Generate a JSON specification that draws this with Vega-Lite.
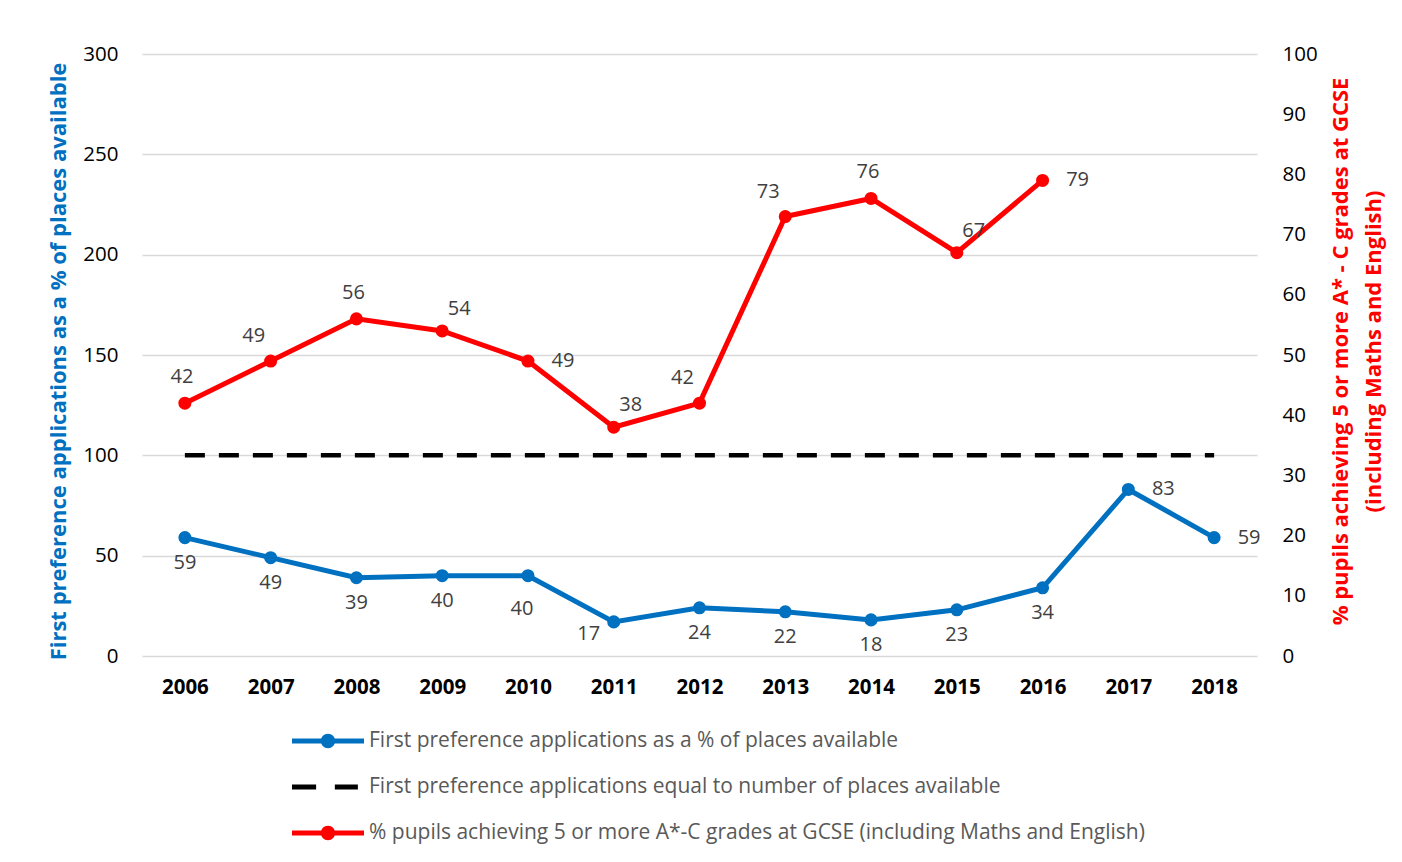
{
  "$schema": "https://vega.github.io/schema/vega-lite/v6.json",
  "width": 1115,
  "height": 602,
  "autosize": "none",
  "padding": {"left": 142, "top": 54, "right": 145, "bottom": 206},
  "background": "white",
  "config": {
    "font": "Open Sans",
    "view": {"stroke": null},
    "axis": {"labelFont": "Open Sans", "titleFont": "Open Sans", "domain": false, "ticks": false, "labelFontSize": 20.5, "labelColor": "#000000"},
    "legend": {"labelFont": "Open Sans"},
    "text": {"font": "Open Sans"}
  },
  "data": {
    "values": [
      {"year": "2006", "series": "First preference applications as a % of places available", "value": 59},
      {"year": "2007", "series": "First preference applications as a % of places available", "value": 49},
      {"year": "2008", "series": "First preference applications as a % of places available", "value": 39},
      {"year": "2009", "series": "First preference applications as a % of places available", "value": 40},
      {"year": "2010", "series": "First preference applications as a % of places available", "value": 40},
      {"year": "2011", "series": "First preference applications as a % of places available", "value": 17},
      {"year": "2012", "series": "First preference applications as a % of places available", "value": 24},
      {"year": "2013", "series": "First preference applications as a % of places available", "value": 22},
      {"year": "2014", "series": "First preference applications as a % of places available", "value": 18},
      {"year": "2015", "series": "First preference applications as a % of places available", "value": 23},
      {"year": "2016", "series": "First preference applications as a % of places available", "value": 34},
      {"year": "2017", "series": "First preference applications as a % of places available", "value": 83},
      {"year": "2018", "series": "First preference applications as a % of places available", "value": 59},
      {"year": "2006", "series": "First preference applications equal to number of places available", "value": 100},
      {"year": "2007", "series": "First preference applications equal to number of places available", "value": 100},
      {"year": "2008", "series": "First preference applications equal to number of places available", "value": 100},
      {"year": "2009", "series": "First preference applications equal to number of places available", "value": 100},
      {"year": "2010", "series": "First preference applications equal to number of places available", "value": 100},
      {"year": "2011", "series": "First preference applications equal to number of places available", "value": 100},
      {"year": "2012", "series": "First preference applications equal to number of places available", "value": 100},
      {"year": "2013", "series": "First preference applications equal to number of places available", "value": 100},
      {"year": "2014", "series": "First preference applications equal to number of places available", "value": 100},
      {"year": "2015", "series": "First preference applications equal to number of places available", "value": 100},
      {"year": "2016", "series": "First preference applications equal to number of places available", "value": 100},
      {"year": "2017", "series": "First preference applications equal to number of places available", "value": 100},
      {"year": "2018", "series": "First preference applications equal to number of places available", "value": 100},
      {"year": "2006", "series": "% pupils achieving 5 or more A*-C grades at GCSE (including Maths and English)", "value": 42},
      {"year": "2007", "series": "% pupils achieving 5 or more A*-C grades at GCSE (including Maths and English)", "value": 49},
      {"year": "2008", "series": "% pupils achieving 5 or more A*-C grades at GCSE (including Maths and English)", "value": 56},
      {"year": "2009", "series": "% pupils achieving 5 or more A*-C grades at GCSE (including Maths and English)", "value": 54},
      {"year": "2010", "series": "% pupils achieving 5 or more A*-C grades at GCSE (including Maths and English)", "value": 49},
      {"year": "2011", "series": "% pupils achieving 5 or more A*-C grades at GCSE (including Maths and English)", "value": 38},
      {"year": "2012", "series": "% pupils achieving 5 or more A*-C grades at GCSE (including Maths and English)", "value": 42},
      {"year": "2013", "series": "% pupils achieving 5 or more A*-C grades at GCSE (including Maths and English)", "value": 73},
      {"year": "2014", "series": "% pupils achieving 5 or more A*-C grades at GCSE (including Maths and English)", "value": 76},
      {"year": "2015", "series": "% pupils achieving 5 or more A*-C grades at GCSE (including Maths and English)", "value": 67},
      {"year": "2016", "series": "% pupils achieving 5 or more A*-C grades at GCSE (including Maths and English)", "value": 79}
    ]
  },
  "encoding": {
    "x": {
      "field": "year", "type": "ordinal",
      "scale": {"type": "point", "padding": 0.5},
      "axis": {"title": null, "labelAngle": 0, "labelFontWeight": "bold", "labelFontSize": 20.5, "labelPadding": 21, "grid": false}
    }
  },
  "layer": [
    {
      "encoding": {
        "y": {
          "field": "value", "type": "quantitative",
          "scale": {"domain": [0, 300]},
          "axis": {
            "values": [0, 50, 100, 150, 200, 250, 300],
            "grid": true, "gridColor": "#d9d9d9", "gridWidth": 1.5,
            "labelPadding": 24,
            "title": "First preference applications as a % of places available",
            "titleColor": "#0070C0", "titleFontWeight": "bold", "titleFontSize": 22, "titlePadding": 12,
            "titleY": 307
          }
        }
      },
      "layer": [
        {
          "transform": [{"filter": "datum.series == 'First preference applications equal to number of places available'"}],
          "mark": {"type": "line", "color": "#000000", "strokeWidth": 4.5, "strokeDash": [20, 14]}
        },
        {
          "transform": [{"filter": "datum.series == 'First preference applications as a % of places available'"}],
          "mark": {"type": "line", "color": "#0070C0", "strokeWidth": 5}
        },
        {
          "transform": [{"filter": "datum.series == 'First preference applications as a % of places available'"}],
          "mark": {"type": "point", "filled": true, "opacity": 1, "color": "#0070C0", "size": 170, "shape": "circle"}
        },
        {
          "transform": [{"filter": "datum.value < 0"}],
          "mark": {"type": "point", "filled": true, "opacity": 1},
          "encoding": {
            "color": {
              "field": "series", "type": "nominal",
              "scale": {
                "domain": ["First preference applications as a % of places available", "First preference applications equal to number of places available", "% pupils achieving 5 or more A*-C grades at GCSE (including Maths and English)"],
                "range": ["#0070C0", "#000000", "#FF0000"]
              },
              "legend": {
                "title": null, "orient": "none", "legendX": 150, "legendY": 651, "direction": "vertical",
                "symbolSize": 5184, "labelFontSize": 21, "labelColor": "#595959", "labelLimit": 1000, "labelOffset": 5, "rowPadding": 0, "symbolStrokeWidth": 0
              }
            },
            "shape": {
              "field": "series", "type": "nominal",
              "scale": {
                "domain": ["First preference applications as a % of places available", "First preference applications equal to number of places available", "% pupils achieving 5 or more A*-C grades at GCSE (including Maths and English)"],
                "range": [
                  "M-1,-0.07H1V0.07H-1Z M-0.2,0A0.2,0.2 0 1 1 0.2,0A0.2,0.2 0 1 1 -0.2,0Z",
                  "M-1,-0.07H-0.33V0.07H-1Z M0.19,-0.07H0.83V0.07H0.19Z",
                  "M-1,-0.07H1V0.07H-1Z M-0.2,0A0.2,0.2 0 1 1 0.2,0A0.2,0.2 0 1 1 -0.2,0Z"
                ]
              },
              "legend": {
                "title": null, "orient": "none", "legendX": 150, "legendY": 651, "direction": "vertical",
                "symbolSize": 5184, "labelFontSize": 21, "labelColor": "#595959", "labelLimit": 1000, "labelOffset": 5, "rowPadding": 0, "symbolStrokeWidth": 0
              }
            }
          }
        },
        {
          "transform": [{"filter": "datum.series == 'First preference applications as a % of places available' && indexof(['2010','2011','2017','2018'], datum.year) < 0"}],
          "mark": {"type": "text", "fontSize": 20, "color": "#404040", "dy": 25, "baseline": "middle"},
          "encoding": {"text": {"field": "value", "type": "quantitative"}}
        },
        {
          "transform": [{"filter": "datum.series == 'First preference applications as a % of places available' && datum.year == '2010'"}],
          "mark": {"type": "text", "fontSize": 20, "color": "#404040", "dy": 33, "dx": -6, "baseline": "middle"},
          "encoding": {"text": {"field": "value", "type": "quantitative"}}
        },
        {
          "transform": [{"filter": "datum.series == 'First preference applications as a % of places available' && datum.year == '2011'"}],
          "mark": {"type": "text", "fontSize": 20, "color": "#404040", "dy": 12, "dx": -25, "baseline": "middle"},
          "encoding": {"text": {"field": "value", "type": "quantitative"}}
        },
        {
          "transform": [{"filter": "datum.series == 'First preference applications as a % of places available' && indexof(['2017','2018'], datum.year) >= 0"}],
          "mark": {"type": "text", "fontSize": 20, "color": "#404040", "dx": 35, "baseline": "middle"},
          "encoding": {"text": {"field": "value", "type": "quantitative"}}
        }
      ]
    },
    {
      "transform": [{"filter": "datum.series == '% pupils achieving 5 or more A*-C grades at GCSE (including Maths and English)'"}],
      "encoding": {
        "y": {
          "field": "value", "type": "quantitative",
          "scale": {"domain": [0, 100]},
          "axis": {
            "orient": "right",
            "values": [0, 10, 20, 30, 40, 50, 60, 70, 80, 90, 100],
            "grid": false,
            "labelPadding": 25,
            "title": ["% pupils achieving 5 or more A* - C grades at GCSE", "(including Maths and English)"],
            "titleColor": "#FF0000", "titleFontWeight": "bold", "titleFontSize": 22, "titlePadding": -20,
            "titleAngle": 270, "titleBaseline": "top", "titleLineHeight": 33, "titleY": 297
          }
        }
      },
      "layer": [
        {"mark": {"type": "line", "color": "#FF0000", "strokeWidth": 5}},
        {"mark": {"type": "point", "filled": true, "opacity": 1, "color": "#FF0000", "size": 170, "shape": "circle"}},
        {
          "transform": [{"filter": "indexof(['2006','2008','2014'], datum.year) >= 0"}],
          "mark": {"type": "text", "fontSize": 20, "color": "#404040", "dy": -26, "dx": -3, "baseline": "middle"},
          "encoding": {"text": {"field": "value", "type": "quantitative"}}
        },
        {
          "transform": [{"filter": "indexof(['2007','2012','2013'], datum.year) >= 0"}],
          "mark": {"type": "text", "fontSize": 20, "color": "#404040", "dy": -25, "dx": -17, "baseline": "middle"},
          "encoding": {"text": {"field": "value", "type": "quantitative"}}
        },
        {
          "transform": [{"filter": "indexof(['2009','2011','2015'], datum.year) >= 0"}],
          "mark": {"type": "text", "fontSize": 20, "color": "#404040", "dy": -22, "dx": 17, "baseline": "middle"},
          "encoding": {"text": {"field": "value", "type": "quantitative"}}
        },
        {
          "transform": [{"filter": "indexof(['2010','2016'], datum.year) >= 0"}],
          "mark": {"type": "text", "fontSize": 20, "color": "#404040", "dx": 35, "baseline": "middle"},
          "encoding": {"text": {"field": "value", "type": "quantitative"}}
        }
      ]
    }
  ],
  "resolve": {"scale": {"y": "independent"}}
}
